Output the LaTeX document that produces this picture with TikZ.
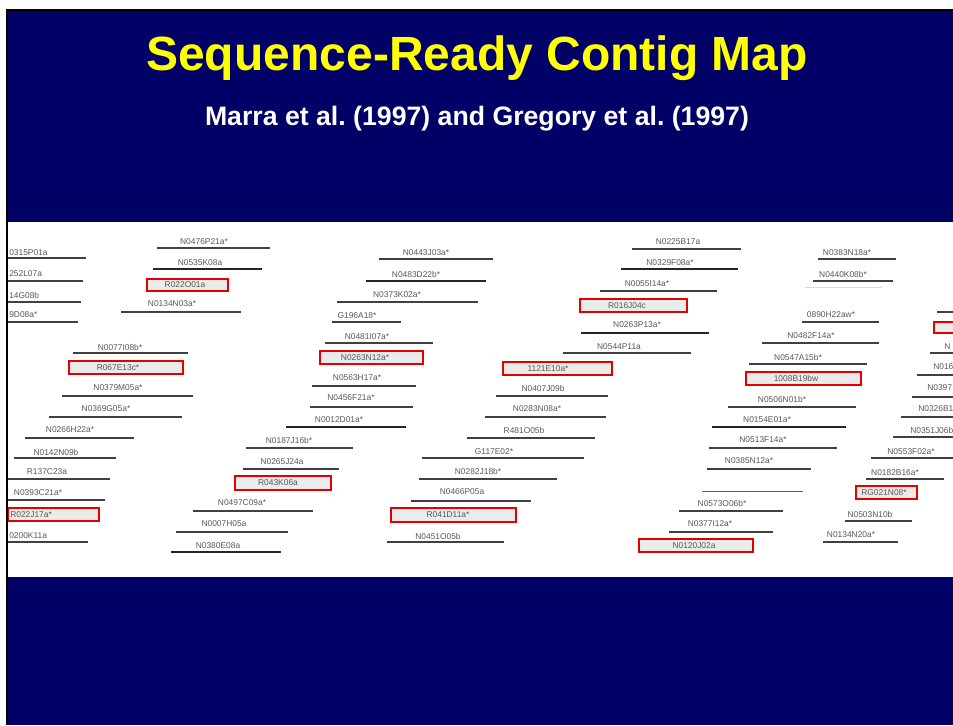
\documentclass[tikz,border=0pt]{standalone}
\usepackage{fontspec}
\setmainfont{Liberation Sans}
\usepackage{tikz}
\usetikzlibrary{positioning}
\frenchspacing

\definecolor{slidenavy}{RGB}{0,0,102}
\definecolor{titleyellow}{RGB}{255,255,0}
\definecolor{hitred}{RGB}{228,0,0}

\begin{document}
\begin{tikzpicture}[
    x=0.75pt, y=-0.75pt,
    lbl/.style={
      inner sep=0pt,
      text=black!65,
      font=\fontsize{6.3}{7}\selectfont
    },
    clone/.style={draw=black!75, line width=1.1pt},
    clonebold/.style={draw=black!85, line width=1.6pt},
    hit/.style={draw=hitred, fill=black!8, line width=1.8pt}
  ]
    \useasboundingbox (0,0) rectangle (953,725);
    \fill[white] (0,0) rectangle (953,725);
    \fill[black] (6,9) rectangle (953,725);
    \fill[slidenavy] (8,11) rectangle (953,725);
    \fill[white] (8,222) rectangle (953,577);

    \node[text=titleyellow, font=\fontsize{36}{40}\selectfont\bfseries, anchor=base] (title) at (477,70) {Sequence-Ready Contig Map};
    \node[text=white, font=\fontsize{20}{24}\selectfont\bfseries, anchor=base] (subtitle) at (477,125) {Marra et al. (1997) and Gregory et al. (1997)};

    \begin{scope}
      \clip (8,222) rectangle (953,577);
      % left block
      \node[lbl, anchor=west] (n0315) at (9,253) {0315P01a};
      \draw[clone] (8,258) -- (86,258);
      \node[lbl, anchor=west] (n0252) at (9,274) {252L07a};
      \draw[clone] (8,281) -- (83,281);
      \node[lbl, anchor=west] (n0014) at (9,295) {14G08b};
      \draw[clone] (8,302) -- (81,302);
      \node[lbl, anchor=west] (n0009) at (9,315) {9D08a*};
      \draw[clone] (8,322) -- (78,322);
      \node[lbl] (N0476P21a) at (204,242) {N0476P21a*};
      \draw[clone] (157,248) -- (270,248);
      \node[lbl] (N0535K08a) at (200,263) {N0535K08a};
      \draw[clonebold] (153,269) -- (262,269);
      \draw[hit] (147,279) rectangle (228,291);
      \node[lbl] (R022O01a) at (185,285) {R022O01a};
      \node[lbl] (N0134N03a) at (172,304) {N0134N03a*};
      \draw[clone] (121,312) -- (241,312);
      \node[lbl] (N0077I08b) at (120,347) {N0077I08b*};
      \draw[clone] (73,353) -- (188,353);
      \draw[hit] (69,361) rectangle (183,374);
      \node[lbl] (R067E13c) at (118,367.5) {R067E13c*};
      \node[lbl] (N0379M05a) at (118,388) {N0379M05a*};
      \draw[clone] (62,396) -- (193,396);
      \node[lbl] (N0369G05a) at (106,409) {N0369G05a*};
      \draw[clone] (49,417) -- (182,417);
      \node[lbl] (N0266H22a) at (70,430) {N0266H22a*};
      \draw[clone] (25,438) -- (134,438);
      \node[lbl] (N0142N09b) at (56,452) {N0142N09b};
      \draw[clone] (14,458) -- (116,458);
      \node[lbl] (R137C23a) at (47,472) {R137C23a};
      \draw[clone] (8,479) -- (110,479);
      \node[lbl] (N0393C21a) at (38,493) {N0393C21a*};
      \draw[clone] (8,500) -- (105,500);
      \draw[hit] (8,508) rectangle (99,521);
      \node[lbl, anchor=west] (R022J17a) at (10,514.5) {R022J17a*};
      \node[lbl, anchor=west] (n0200) at (9,536) {0200K11a};
      \draw[clone] (8,542) -- (88,542);

      % second block
      \node[lbl] (N0443J03a) at (426,253) {N0443J03a*};
      \draw[clone] (379,259) -- (493,259);
      \node[lbl] (N0483D22b) at (416,274) {N0483D22b*};
      \draw[clonebold] (366,281) -- (486,281);
      \node[lbl] (N0373K02a) at (397,295) {N0373K02a*};
      \draw[clone] (337,302) -- (478,302);
      \node[lbl] (G196A18) at (357,316) {G196A18*};
      \draw[clone] (332,322) -- (401,322);
      \node[lbl] (N0481I07a) at (367,337) {N0481I07a*};
      \draw[clone] (325,343) -- (433,343);
      \draw[hit] (320,351) rectangle (423,364);
      \node[lbl] (N0263N12a) at (365,357.5) {N0263N12a*};
      \node[lbl] (N0563H17a) at (357,378) {N0563H17a*};
      \draw[clone] (312,386) -- (416,386);
      \node[lbl] (N0456F21a) at (351,398) {N0456F21a*};
      \draw[clone] (310,407) -- (413,407);
      \node[lbl] (N0012D01a) at (339,420) {N0012D01a*};
      \draw[clonebold] (286,427) -- (406,427);
      \node[lbl] (N0187J16b) at (289,440) {N0187J16b*};
      \draw[clone] (246,448) -- (353,448);
      \node[lbl] (N0265J24a) at (282,462) {N0265J24a};
      \draw[clone] (243,469) -- (339,469);
      \draw[hit] (235,476) rectangle (331,490);
      \node[lbl] (R043K06a) at (278,483) {R043K06a};
      \node[lbl] (N0497C09a) at (242,503) {N0497C09a*};
      \draw[clone] (193,511) -- (313,511);
      \node[lbl] (N0007H05a) at (224,524) {N0007H05a};
      \draw[clone] (176,532) -- (288,532);
      \node[lbl] (N0380E08a) at (218,546) {N0380E08a};
      \draw[clonebold] (171,552) -- (281,552);

      % third block
      \node[lbl] (N0225B17a) at (678,242) {N0225B17a};
      \draw[clone] (632,249) -- (741,249);
      \node[lbl] (N0329F08a) at (670,263) {N0329F08a*};
      \draw[clonebold] (621,269) -- (738,269);
      \node[lbl] (N0055I14a) at (647,284) {N0055I14a*};
      \draw[clone] (600,291) -- (717,291);
      \draw[hit] (580,299) rectangle (687,312);
      \node[lbl] (R016J04c) at (627,305.5) {R016J04c};
      \node[lbl] (N0263P13a) at (637,325) {N0263P13a*};
      \draw[clonebold] (581,333) -- (709,333);
      \node[lbl] (N0544P11a) at (619,347) {N0544P11a};
      \draw[clone] (563,353) -- (691,353);
      \draw[hit] (503,362) rectangle (612,375);
      \node[lbl] (E1121E10a) at (548,368.5) {1121E10a*};
      \node[lbl] (N0407J09b) at (543,388) {N0407J09b};
      \draw[clone] (496,396) -- (608,396);
      \node[lbl] (N0283N08a) at (537,409) {N0283N08a*};
      \draw[clone] (485,417) -- (606,417);
      \node[lbl] (R481O05b) at (524,430) {R481O05b};
      \draw[clone] (467,438) -- (595,438);
      \node[lbl] (G117E02) at (494,452) {G117E02*};
      \draw[clone] (422,458) -- (584,458);
      \node[lbl] (N0282J18b) at (478,471) {N0282J18b*};
      \draw[clone] (419,479) -- (557,479);
      \node[lbl] (N0466P05a) at (462,492) {N0466P05a};
      \draw[clone] (411,501) -- (531,501);
      \draw[hit] (391,508) rectangle (516,522);
      \node[lbl] (R041D11a) at (448,515) {R041D11a*};
      \node[lbl] (N0451O05b) at (438,536) {N0451O05b};
      \draw[clone] (387,542) -- (504,542);

      % fourth block
      \node[lbl] (N0383N18a) at (847,253) {N0383N18a*};
      \draw[clone] (818,259) -- (896,259);
      \node[lbl] (N0440K08b) at (843,274) {N0440K08b*};
      \draw[clone] (813,281) -- (893,281);
      \draw[red!20, line width=0.4pt] (805,287) -- (882,287);
      \node[lbl] (N0890H22aw) at (831,315) {0890H22aw*};
      \draw[clone] (802,322) -- (879,322);
      \node[lbl] (N0482F14a) at (811,336) {N0482F14a*};
      \draw[clone] (762,343) -- (879,343);
      \node[lbl] (N0547A15b) at (798,357) {N0547A15b*};
      \draw[clone] (749,364) -- (867,364);
      \draw[hit] (746,372) rectangle (861,385);
      \node[lbl] (E1008B19bw) at (796,378.5) {1008B19bw};
      \node[lbl] (N0506N01b) at (782,399) {N0506N01b*};
      \draw[clone] (728,407) -- (856,407);
      \node[lbl] (N0154E01a) at (767,420) {N0154E01a*};
      \draw[clonebold] (712,427) -- (846,427);
      \node[lbl] (N0513F14a) at (763,440) {N0513F14a*};
      \draw[clone] (709,448) -- (837,448);
      \node[lbl] (N0385N12a) at (749,461) {N0385N12a*};
      \draw[clone] (707,469) -- (811,469);
      \draw[black!60, line width=0.5pt] (702,491) -- (803,491);
      \node[lbl] (N0573O06b) at (722,503) {N0573O06b*};
      \draw[clone] (679,511) -- (783,511);
      \node[lbl] (N0377I12a) at (710,524) {N0377I12a*};
      \draw[clone] (669,532) -- (773,532);
      \draw[hit] (639,539) rectangle (753,552);
      \node[lbl] (N0120J02a) at (694,545.5) {N0120J02a};

      % right edge
      \draw[clone] (937,312) -- (953,312);
      \draw[hit] (934,322) rectangle (962,333);
      \node[lbl, anchor=west] (n0001) at (944,347) {N};
      \draw[clone] (930,353) -- (953,353);
      \node[lbl, anchor=west] (n0016) at (933,367) {N016};
      \draw[clone] (917,375) -- (953,375);
      \node[lbl, anchor=west] (n0397) at (927,388) {N0397};
      \draw[clone] (912,397) -- (953,397);
      \node[lbl, anchor=west] (n0326) at (918,409) {N0326B1};
      \draw[clone] (901,417) -- (953,417);
      \node[lbl, anchor=west] (n0351) at (910,430) {N0351J06b};
      \draw[clone] (893,437) -- (953,437);
      \node[lbl] (N0553F02a) at (911,452) {N0553F02a*};
      \draw[clone] (871,458) -- (953,458);
      \node[lbl] (N0182B16a) at (895,473) {N0182B16a*};
      \draw[clone] (866,479) -- (944,479);
      \draw[hit] (856,486) rectangle (917,499);
      \node[lbl] (RG021N08) at (884,492.5) {RG021N08*};
      \node[lbl] (N0503N10b) at (870,514) {N0503N10b};
      \draw[clone] (845,521) -- (912,521);
      \node[lbl] (N0134N20a) at (851,535) {N0134N20a*};
      \draw[clone] (823,542) -- (898,542);
    \end{scope}
  \end{tikzpicture}
\end{document}
